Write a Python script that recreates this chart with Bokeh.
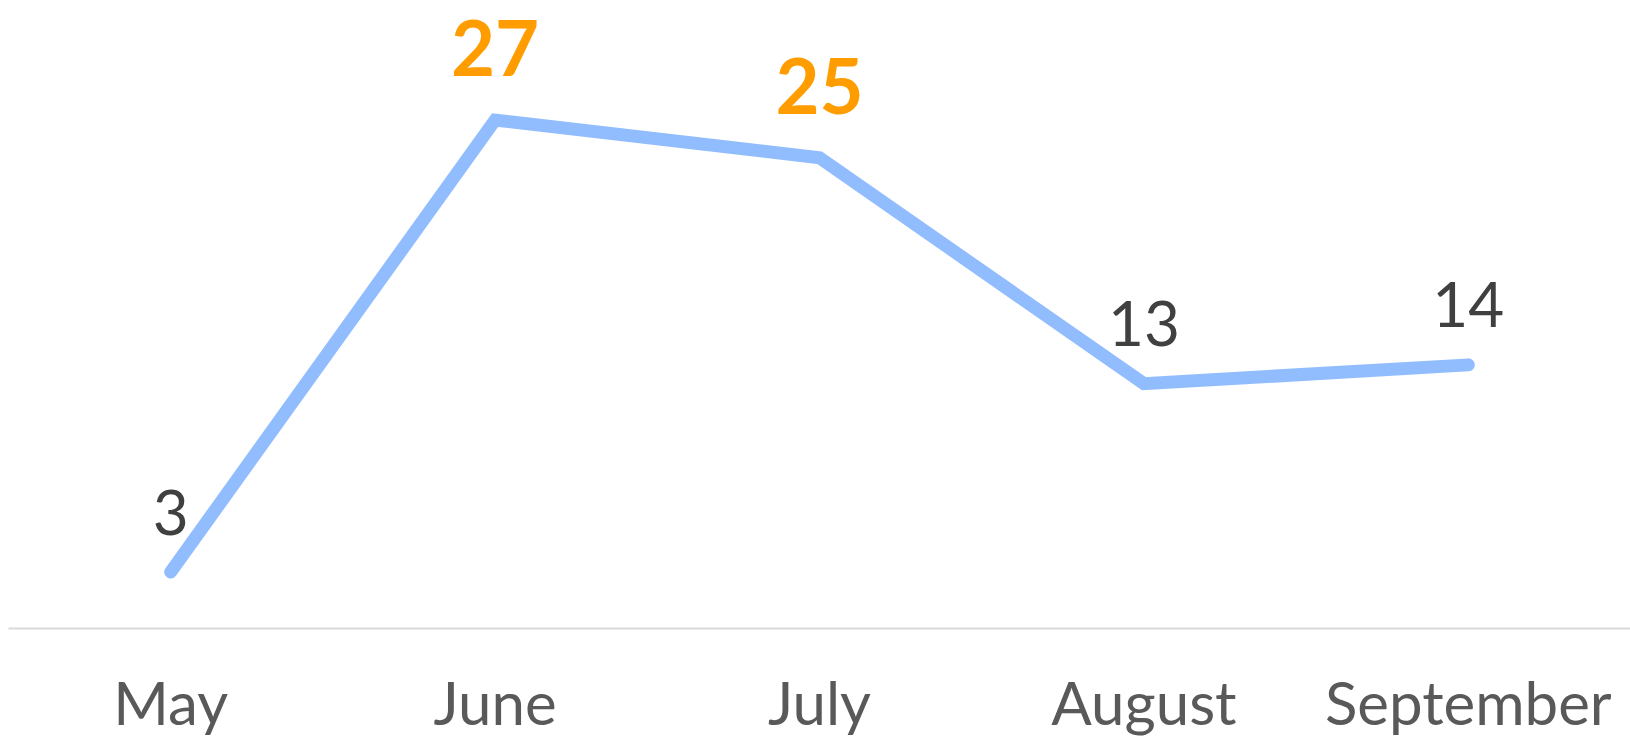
from bokeh.plotting import figure
from bokeh.models import ColumnDataSource, FactorRange, Range1d
from bokeh.core.properties import value
from bokeh.embed import file_html
from bokeh.resources import INLINE

months = ["May", "June", "July", "August", "September"]
values = [3, 27, 25, 13, 14]

top2 = sorted(values, reverse=True)[:2]
is_top = [v in top2 for v in values]

p = figure(width=1630, height=740, x_range=FactorRange(*months), y_range=Range1d(0, 33.35),
           output_backend="svg", toolbar_location=None,
           min_border_left=8, min_border_right=0, min_border_top=0, min_border_bottom=0)
p.outline_line_color = None
p.grid.visible = False
p.yaxis.visible = False
p.background_fill_color = "white"
p.border_fill_color = "white"

p.line(months, values, line_color="#91BDFF", line_width=13, line_cap="round", line_join="miter")

norm = ColumnDataSource(dict(x=[m for m, t in zip(months, is_top) if not t],
                             y=[v for v, t in zip(values, is_top) if not t],
                             t=[str(v) for v, t in zip(values, is_top) if not t]))
hi = ColumnDataSource(dict(x=[m for m, t in zip(months, is_top) if t],
                           y=[v for v, t in zip(values, is_top) if t],
                           t=[str(v) for v, t in zip(values, is_top) if t]))
p.text(x="x", y="y", text="t", source=norm, text_align="center", text_baseline="alphabetic",
       y_offset=-60, text_font=value("Lato"), text_font_size="62px", text_color="#404040")
p.text(x="x", y="y", text="t", source=hi, text_align="center", text_baseline="alphabetic",
       y_offset=-72, text_font=value("Lato"), text_font_style="bold", text_font_size="76px",
       text_color="#FF9C00")

ax = p.xaxis[0]
ax.axis_line_color = "#D9D9D9"
ax.axis_line_width = 2
ax.major_tick_line_color = None
ax.minor_tick_line_color = None
ax.major_label_text_font = "Lato"
ax.major_label_text_font_size = "60px"
ax.major_label_text_line_height = 0.85
ax.major_label_text_color = "#595959"
ax.major_label_standoff = 31

open("out.html", "w").write(file_html(p, INLINE))
